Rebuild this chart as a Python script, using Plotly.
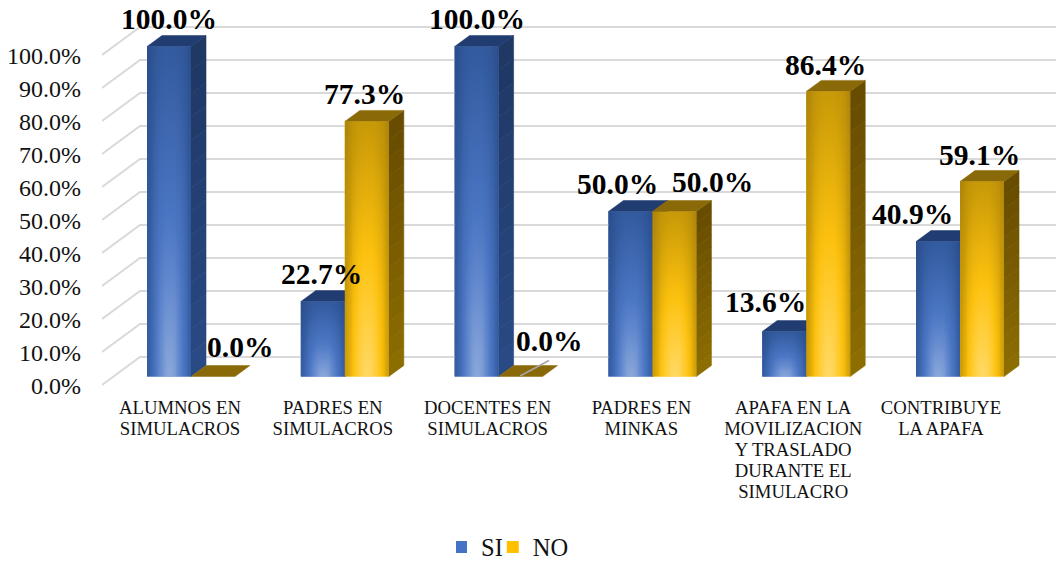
import numpy as np
import plotly.graph_objects as go

# ---- data -------------------------------------------------------------
categories = ["ALUMNOS EN<br>SIMULACROS", "PADRES EN<br>SIMULACROS", "DOCENTES EN<br>SIMULACROS",
              "PADRES EN<br>MINKAS", "APAFA EN LA<br>MOVILIZACION<br>Y TRASLADO<br>DURANTE EL<br>SIMULACRO",
              "CONTRIBUYE<br>LA APAFA"]
si_values = [100.0, 22.7, 100.0, 50.0, 13.6, 40.9]
no_values = [0.0, 77.3, 0.0, 50.0, 86.4, 59.1]
y_ticks = [0, 10, 20, 30, 40, 50, 60, 70, 80, 90, 100]

# ---- geometry (pixels of the 1056x562 page) ----------------------------
W, H = 1056, 562
PLOT_L, PLOT_B = 102, 390
X0_PX, X_STEP = 191.0, 153.8      # first group centre, group spacing
Y0_PX, Y_STEP = 376.5, 3.3        # value 0 pixel, pixels per unit
BAR_PX, DX_PX, DY_PX = 44.0, 15.0, 11.0
WALL_DX, WALL_DY = 38.0, 28.0
FRONT_Y0 = 385.0

xr = [(PLOT_L - X0_PX) / X_STEP, (W - X0_PX) / X_STEP]
yr = [(Y0_PX - PLOT_B) / Y_STEP, Y0_PX / Y_STEP]
bw, ddx, ddy = BAR_PX / X_STEP, DX_PX / X_STEP, DY_PX / Y_STEP
px_x = lambda p: (p - X0_PX) / X_STEP
px_y = lambda p: (Y0_PX - p) / Y_STEP

FONT = "Liberation Serif"
# label nudges in pixels
si_lx = [0, -1, 0, -13, -19, -26]
si_ly = [28, 28, 28, 28, 29.5, 28]
no_lx = [27, -2, 28, 38, -3, -3]
no_ly = [29.5, 27, 35.5, 30, 26, 26]
cat_shift = [-11, -12, -11, -11, -13, -19]

styles = {
    "SI": dict(base="#4472c4", top="#213c70", side=("#1f3864", "#2a4a85"),
               scale=[[0, "#8ba8da"], [.2, "#6389ce"], [.35, "#4a75c2"], [.7, "#335b9f"], [1, "#2a4d8a"]]),
    "NO": dict(base="#ffc000", top="#8a6a08", side=("#684c00", "#8c6d00"),
               scale=[[0, "#ffd966"], [.2, "#ffcc33"], [.35, "#fcc10e"], [.7, "#c99a08"], [1, "#ac830a"]]),
}

fig = go.Figure()

# base bars (carry the legend)
for name, vals, off in (("SI", si_values, -bw), ("NO", no_values, 0.0)):
    fig.add_trace(go.Bar(name=name, x=list(range(6)), y=vals, width=bw, offset=off,
                         marker=dict(color=styles[name]["base"], line=dict(width=0)),
                         hoverinfo="skip"))

# gridlines: front edge -> back wall -> right edge
gx, gy = [], []
for t in y_ticks:
    front = (FRONT_Y0 - Y0_PX) / -Y_STEP + t
    gx += [px_x(PLOT_L), px_x(PLOT_L + WALL_DX), xr[1], None]
    gy += [front, front + WALL_DY / Y_STEP, front + WALL_DY / Y_STEP, None]
fig.add_trace(go.Scatter(x=gx, y=gy, mode="lines", line=dict(color="#d9d9d9", width=2),
                         showlegend=False, hoverinfo="skip"))


def hex2rgb(h):
    return np.array([int(h[i:i + 2], 16) for i in (1, 3, 5)], float)


# side and top faces, computed from the values
NBINS = 14
for name, vals, off in (("SI", si_values, -bw), ("NO", no_values, 0.0)):
    st = styles[name]
    c_top, c_bot = hex2rgb(st["side"][0]), hex2rgb(st["side"][1])
    for k in range(NBINS):
        xs, ys = [], []
        for i, v in enumerate(vals):
            if v <= 0:
                continue
            x1 = i + off + bw
            lo, hi = v * k / NBINS, v * (k + 1) / NBINS
            xs += [x1, x1 + ddx, x1 + ddx, x1, x1, None]
            ys += [lo, lo + ddy, hi + ddy, hi, lo, None]
        col = c_bot + (c_top - c_bot) * k / (NBINS - 1)
        col = "rgb(%d,%d,%d)" % tuple(col)
        fig.add_trace(go.Scatter(x=xs, y=ys, mode="lines", fill="toself", fillcolor=col,
                                 line=dict(color=col, width=0.6), showlegend=False, hoverinfo="skip"))
    xs, ys = [], []
    for i, v in enumerate(vals):
        x0, x1 = i + off, i + off + bw
        xs += [x0, x0 + ddx, x1 + ddx, x1, x0, None]
        ys += [v, v + ddy, v + ddy, v, v, None]
    fig.add_trace(go.Scatter(x=xs, y=ys, mode="lines", fill="toself", fillcolor=st["top"],
                             line=dict(color=st["top"], width=0.5), showlegend=False, hoverinfo="skip"))

# gradient front faces on an overlay axis
nx, ny = 24, 40
for name, vals, off in (("SI", si_values, -bw), ("NO", no_values, 0.0)):
    for i, v in enumerate(vals):
        if v <= 0:
            continue
        u = (np.arange(nx) + .5) / nx
        w = (np.arange(ny) + .5) / ny
        U, V = np.meshgrid(u, w)
        z = np.sqrt((np.abs(U - .5) * 2) ** 3 + V ** 2) / np.sqrt(2)
        fig.add_trace(go.Heatmap(x=np.linspace(i + off, i + off + bw, nx + 1),
                                 y=np.linspace(0, v, ny + 1), z=z, zmin=0, zmax=1,
                                 colorscale=styles[name]["scale"], showscale=False,
                                 zsmooth="best", yaxis="y2", hoverinfo="skip"))

# data labels
ann = []
for vals, off, lx, ly in ((si_values, -bw / 2, si_lx, si_ly), (no_values, bw / 2, no_lx, no_ly)):
    for i, v in enumerate(vals):
        ann.append(dict(x=i + off, y=v, xref="x", yref="y", text=f"<b>{v:.1f}%</b>", showarrow=False,
                        xanchor="center", yanchor="middle", xshift=lx[i], yshift=ly[i],
                        font=dict(family=FONT, size=29.5, color="black")))


def cat_text(s):
    return "<br>".join(f'<span style="font-size:18.7px">{p}</span>' for p in s.split("<br>"))


fig.update_layout(
    width=W, height=H, autosize=False, barmode="overlay",
    paper_bgcolor="white", plot_bgcolor="white",
    margin=dict(l=PLOT_L, r=0, t=0, b=H - PLOT_B),
    font=dict(family=FONT, color="black"),
    xaxis=dict(range=xr, showgrid=False, zeroline=False, showline=False, ticks="",
               tickmode="array", tickvals=[i + s / X_STEP for i, s in enumerate(cat_shift)],
               ticktext=[cat_text(c) for c in categories],
               tickfont=dict(family=FONT, size=16.15, color="#111111"), tickangle=0, ticklabelstandoff=7),
    yaxis=dict(range=yr, showgrid=False, zeroline=False, showline=False, ticks="",
               tickmode="array", tickvals=y_ticks, ticktext=[f"{t:.1f}%" for t in y_ticks],
               tickfont=dict(family=FONT, size=24, color="#111111"),
               ticklabelstandoff=20, ticklabelshift=9),
    yaxis2=dict(range=yr, overlaying="y", visible=False),
    legend=dict(orientation="h", xref="container", yref="container", x=515 / W, xanchor="center",
                y=(H - 547) / H, yanchor="middle", indentation=-15,
                font=dict(family=FONT, size=24.5, color="#111111"), bgcolor="rgba(0,0,0,0)",
                traceorder="normal", itemsizing="constant"),
    annotations=ann,
    shapes=[dict(type="line", xref="x", yref="y", x0=px_x(520), y0=px_y(376), x1=px_x(549), y1=px_y(360.5),
                 line=dict(color="#a6a6a6", width=1.5), layer="above")],
)

fig.write_html("out.html", post_script="document.body.style.margin='0';",
               config={"displayModeBar": False})
